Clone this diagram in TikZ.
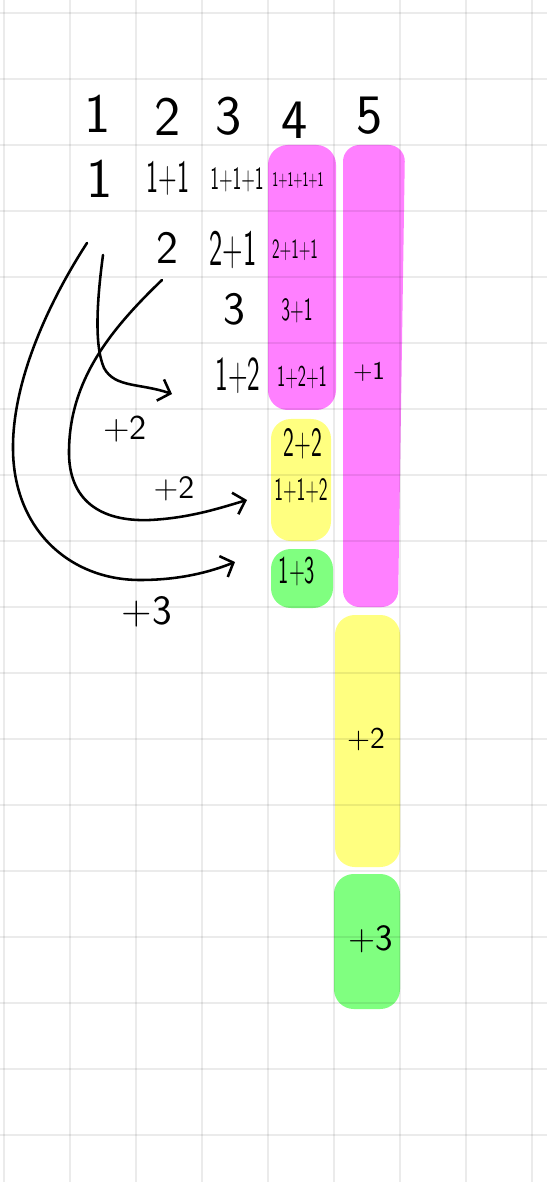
\documentclass[tikz,border=0pt]{standalone}
\usepackage{tikz}
\usepackage{xcolor}
\usetikzlibrary{arrows.meta}

\definecolor{hlpink}{HTML}{FF80FF}
\definecolor{hlyellow}{HTML}{FFFF80}
\definecolor{hlgreen}{HTML}{80FF80}

\newcommand{\sq}[1]{\scalebox{0.55}[1]{#1}}

\begin{document}
\begin{tikzpicture}[x=0.0151515cm, y=-0.0151515cm,
    every node/.style={inner sep=0pt},
    txt/.style={font=\sffamily\fontsize{#1}{#1}\selectfont},
    gridline/.style={line width=1.2pt, black, draw opacity=0.08},
    hand/.style={line width=1.1pt, line cap=round, -{Straight Barb[length=1.6mm,width=3.4mm]}}]
            \useasboundingbox (0,0) rectangle (547,1182);
            \fill[white] (0,0) rectangle (547,1182);
            % highlighter blocks
            \fill[hlpink, rounded corners=3mm] (268,145) rectangle (336,410);
            \fill[hlpink, rounded corners=2.5mm] (343,145) -- (405,145) -- (398,607) -- (343,607) -- cycle;
            \fill[hlyellow, rounded corners=3mm] (271,419) rectangle (331,541);
            \fill[hlgreen, rounded corners=3mm] (271,549) rectangle (333,608);
            \fill[hlyellow, rounded corners=3mm] (335,615) rectangle (400,867);
            \fill[hlgreen, rounded corners=3mm] (334,874) rectangle (400,1009);
            % squared paper
            \foreach \i in {0,...,8} \draw[gridline] (4+66*\i,0) -- (4+66*\i,1182);
            \foreach \j in {0,...,17} \draw[gridline] (0,13+66*\j) -- (547,13+66*\j);
            % column numbers
            \node[txt=24] (top1) at (98,114) {1};
            \node[txt=24] (top2) at (168,117) {2};
            \node[txt=24] (top3) at (229,116) {3};
            \node[txt=24] (top4) at (295,120) {4};
            \node[txt=24] (top5) at (370,116) {5};
            % sums
            \node[txt=24] (a1) at (100,179) {1};
            \node[txt=20] (a11) at (168,178) {\sq{1+1}};
            \node[txt=14] (a111) at (237,180) {\sq{1+1+1}};
            \node[txt=9] (a1111) at (298,180) {\sq{1+1+1+1}};
            \node[txt=20] (b2) at (167,248) {2};
            \node[txt=22] (b21) at (233,250) {\sq{2+1}};
            \node[txt=12] (b211) at (295,250) {\sq{2+1+1}};
            \node[txt=20] (c3) at (234,309) {3};
            \node[txt=14] (c31) at (297,311) {\sq{3+1}};
            \node[txt=21] (d12) at (238,376) {\sq{1+2}};
            \node[txt=13] (d121) at (302,377) {\sq{1+2+1}};
            \node[txt=11] (dp1) at (369,372) {+1};
            \node[txt=18] (e22) at (303,444) {\sq{2+2}};
            \node[txt=14] (f112) at (301,491) {\sq{1+1+2}};
            \node[txt=17] (g13) at (297,572) {\sq{1+3}};
            \node[txt=13] (q2) at (366,739) {+2};
            \node[txt=16] (q3) at (371,939) {+3};
            % jumps
            \node[txt=15] (p2a) at (125,429) {+2};
            \node[txt=14] (p2b) at (174,489) {+2};
            \node[txt=18] (p3) at (147,612) {+3};
            \coordinate (s1) at (103,255);
            \coordinate (t1) at (172,394);
            \coordinate (s2) at (162,280);
            \coordinate (t2) at (247,500);
            \coordinate (s3) at (87,243);
            \coordinate (t3) at (235,562);
            \draw[hand] (s1) .. controls (97,300) and (94,345) .. (104,368) .. controls (115,388) and (140,383) .. (t1);
            \draw[hand] (s2) .. controls (110,330) and (70,380) .. (69,450) .. controls (68,500) and (100,522) .. (150,520) .. controls (190,518) and (220,508) .. (t2);
            \draw[hand] (s3) .. controls (50,300) and (12,380) .. (13,450) .. controls (14,530) and (70,580) .. (140,580) .. controls (180,580) and (210,572) .. (t3);
        \end{tikzpicture}
\end{document}
